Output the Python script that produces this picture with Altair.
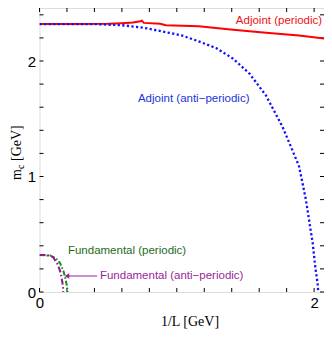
import altair as alt
import pandas as pd

# ---- data ----
x_adj_per = [0, 0.3, 0.5, 0.6, 0.68, 0.735, 0.745, 0.76, 0.88, 0.92, 1.16, 1.41, 1.65, 1.89, 2.1]
m_adj_per = [2.32, 2.32, 2.322, 2.327, 2.333, 2.345, 2.35, 2.33, 2.322, 2.31, 2.30, 2.27, 2.245, 2.22, 2.19]

x_adj_anti = [0, 0.4, 0.6, 0.75, 0.92, 1.04, 1.16, 1.29, 1.41, 1.53, 1.65, 1.77, 1.89, 1.94, 1.99, 2.01, 2.025, 2.03]
m_adj_anti = [2.32, 2.32, 2.31, 2.29, 2.25, 2.22, 2.17, 2.11, 2.02, 1.89, 1.70, 1.43, 1.09, 0.80, 0.42, 0.2, 0.08, 0]

x_fund_per = [0, 0.08, 0.12, 0.15, 0.175, 0.19, 0.2, 0.205]
m_fund_per = [0.32, 0.315, 0.29, 0.25, 0.18, 0.11, 0.05, 0]

x_fund_anti = [0, 0.06, 0.1, 0.135, 0.155, 0.167, 0.172, 0.173]
m_fund_anti = [0.32, 0.32, 0.30, 0.235, 0.16, 0.08, 0.03, 0]

x_tick_vals = [0, 0.2, 0.4, 0.6, 0.8, 1.0, 1.2, 1.4, 1.6, 1.8, 2.0]
y_tick_vals = [0, 0.2, 0.4, 0.6, 0.8, 1.0, 1.2, 1.4, 1.6, 1.8, 2.0, 2.2, 2.4]
x_labels = [0, 1, 2]
y_labels = [0, 1, 2]

label_text = ["Adjoint (periodic)", "Adjoint (anti\u2212periodic)", "Fundamental (periodic)", "Fundamental (anti\u2212periodic)"]
label_x = [1.43, 0.717, 0.207, 0.44]
label_y = [2.346, 1.671, 0.355, 0.1385]
label_color = ["#ee1111", "#2233dd", "#236b23", "#9a1f9a"]

arrow_x = [0.2, 0.42]
arrow_y = [0.1385, 0.1385]

# ---- layout ----
W, H = 284.5, 284
xs = alt.Scale(domain=[0, 2.072], nice=False, zero=False)
ys = alt.Scale(domain=[0, 2.459], nice=False, zero=False)
SANS = "Liberation Sans"
SERIF = "Liberation Serif"

xax = alt.Axis(values=x_labels, title=None, ticks=False, tickSize=0, domain=False, grid=False,
               labelFont=SANS, labelFontSize=15, labelColor="black", labelPadding=3,
               labelFlush=False, format="d")
yax = alt.Axis(values=y_labels, title=None, ticks=False, tickSize=0, domain=False, grid=False,
               labelFont=SANS, labelFontSize=15, labelColor="black", labelPadding=4,
               labelFlush=False, format="d")


def series(xv, yv, color, width=2, dash=None):
    df = pd.DataFrame({"x": xv, "y": yv, "o": list(range(len(xv)))})
    kw = dict(color=color, strokeWidth=width, clip=True)
    if dash:
        kw["strokeDash"] = dash
    return alt.Chart(df).mark_line(**kw).encode(
        x=alt.X("x:Q", scale=xs, axis=xax),
        y=alt.Y("y:Q", scale=ys, axis=yax),
        order="o:Q",
    )


red = series(x_adj_per, m_adj_per, "#ff0000", 2)
blue = series(x_adj_anti, m_adj_anti, "#1010ff", 2.3, [2.2, 2.4])
green = series(x_fund_per, m_fund_per, "#1a8c1a", 2, [5, 2, 1.5, 2])
purple = series(x_fund_anti, m_fund_anti, "#8e1a8e", 2, [6, 2.5, 1.5, 2.5])

xt = pd.DataFrame({"t": x_tick_vals})
yt = pd.DataFrame({"t": y_tick_vals})
tick_bottom = alt.Chart(xt).mark_rule(color="black", strokeWidth=1).encode(
    x=alt.X("t:Q", scale=xs, axis=xax), y=alt.value(H), y2=alt.value(H - 4))
tick_top = alt.Chart(xt).mark_rule(color="black", strokeWidth=1).encode(
    x=alt.X("t:Q", scale=xs, axis=xax), y=alt.value(0), y2=alt.value(4))
tick_left = alt.Chart(yt).mark_rule(color="black", strokeWidth=1).encode(
    y=alt.Y("t:Q", scale=ys, axis=yax), x=alt.value(0), x2=alt.value(4))
tick_right = alt.Chart(yt).mark_rule(color="black", strokeWidth=1).encode(
    y=alt.Y("t:Q", scale=ys, axis=yax), x=alt.value(W - 4), x2=alt.value(W))

lab_df = pd.DataFrame({"text": label_text, "x": label_x, "y": label_y, "c": label_color})
labels = alt.Chart(lab_df).mark_text(font=SANS, fontSize=11.5, align="left", baseline="middle").encode(
    x=alt.X("x:Q", scale=xs, axis=xax),
    y=alt.Y("y:Q", scale=ys, axis=yax),
    text="text:N",
    color=alt.Color("c:N", scale=None),
)

arr_df = pd.DataFrame({"x": arrow_x, "y": arrow_y})
arrow_line = alt.Chart(arr_df).mark_line(color="#9a1f9a", strokeWidth=1).encode(
    x=alt.X("x:Q", scale=xs, axis=xax), y=alt.Y("y:Q", scale=ys, axis=yax))
arrow_head = alt.Chart(arr_df.iloc[[0]]).mark_point(shape="triangle-left", filled=True, size=28,
                                                     color="#9a1f9a", opacity=1).encode(
    x=alt.X("x:Q", scale=xs, axis=xax), y=alt.Y("y:Q", scale=ys, axis=yax))

title_df = pd.DataFrame({"a": [0]})
xtitle = alt.Chart(title_df).mark_text(text="1/L [GeV]", font=SERIF, fontSize=14, align="center",
                                        baseline="middle", color="black").encode(
    x=alt.value(150.5), y=alt.value(314))
yt_m = alt.Chart(title_df).mark_text(text="m", font=SERIF, fontSize=14, align="left",
                                      baseline="alphabetic", angle=270, color="black").encode(
    x=alt.value(-18.5), y=alt.value(172))
yt_c = alt.Chart(title_df).mark_text(text="c", font=SERIF, fontSize=10, align="left",
                                      baseline="alphabetic", angle=270, color="black").encode(
    x=alt.value(-15.5), y=alt.value(161))
yt_g = alt.Chart(title_df).mark_text(text="[GeV]", font=SERIF, fontSize=14, align="left",
                                      baseline="alphabetic", angle=270, color="black").encode(
    x=alt.value(-18.5), y=alt.value(153))

chart = alt.layer(
    tick_bottom, tick_top, tick_left, tick_right,
    red, blue, green, purple,
    arrow_line, arrow_head, labels,
    xtitle, yt_m, yt_c, yt_g,
).properties(
    width=W, height=H,
    autosize=alt.AutoSizeParams(type="none"),
    padding={"left": 31.5, "top": 0, "right": 0, "bottom": 37},
).configure_view(
    stroke="black", strokeWidth=1
).configure(background="white")

chart.save("out.html", embed_options={"renderer": "svg", "actions": False})
